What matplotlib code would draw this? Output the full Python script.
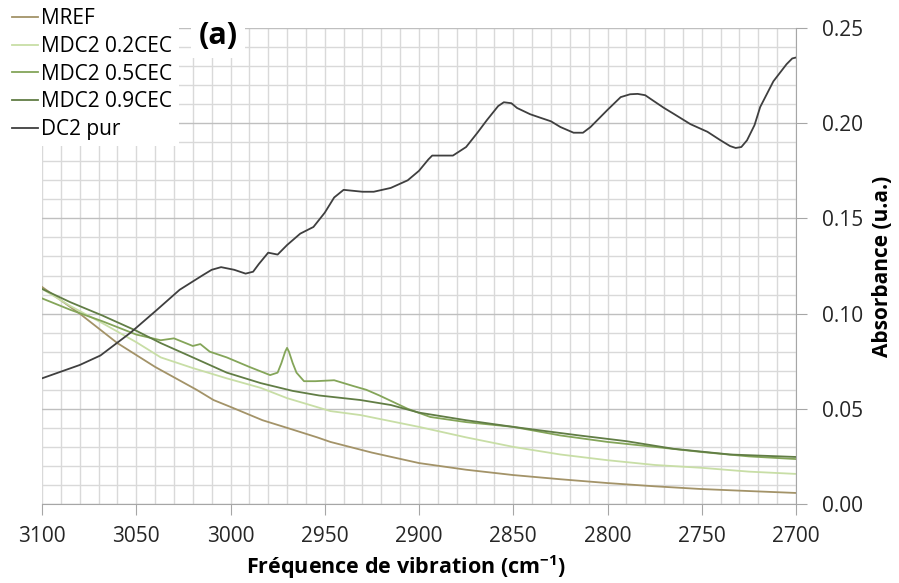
import matplotlib.pyplot as plt
from matplotlib.ticker import MultipleLocator, FormatStrFormatter

plt.rcParams['font.family'] = ['Open Sans', 'DejaVu Sans']
plt.rcParams['mathtext.fontset'] = 'custom'
plt.rcParams['mathtext.rm'] = 'Open Sans'
plt.rcParams['mathtext.bf'] = 'Open Sans:bold'

# Spectra (wavenumber in cm-1, absorbance)
wn_mref = [3100, 3080, 3060, 3040, 3018, 3009, 3000, 2983, 2970, 2954,
           2947, 2925, 2900, 2875, 2850, 2825, 2800, 2775, 2751, 2725, 2700]
abs_mref = [0.114, 0.100, 0.0845, 0.072, 0.060, 0.0546, 0.051, 0.044, 0.040,
            0.035, 0.0326, 0.027, 0.0215, 0.018, 0.0152, 0.013, 0.011,
            0.0093, 0.0079, 0.0068, 0.0058]

wn_02 = [3100, 3085, 3068, 3050, 3037, 3020, 3002, 2984, 2970, 2947, 2931,
         2900, 2875, 2850, 2825, 2800, 2775, 2750, 2725, 2700]
abs_02 = [0.113, 0.104, 0.095, 0.085, 0.077, 0.0714, 0.066, 0.061, 0.0556,
          0.0488, 0.0467, 0.0405, 0.035, 0.030, 0.026, 0.023, 0.0205, 0.019,
          0.017, 0.0158]

wn_05 = [3100, 3085, 3068, 3050, 3037, 3030, 3020, 3016, 3011, 3002, 2990,
         2979, 2975, 2973, 2971, 2970, 2969, 2967, 2965, 2961, 2955, 2945,
         2935, 2928, 2921, 2906, 2894, 2875, 2850, 2825, 2800, 2775, 2750,
         2725, 2700]
abs_05 = [0.108, 0.102, 0.096, 0.089, 0.086, 0.087, 0.083, 0.084, 0.080,
          0.077, 0.072, 0.0677, 0.069, 0.074, 0.080, 0.082, 0.080, 0.074,
          0.069, 0.0645, 0.0645, 0.065, 0.062, 0.060, 0.057, 0.050, 0.0457,
          0.043, 0.0405, 0.036, 0.0326, 0.030, 0.0273, 0.025, 0.0236]

wn_09 = [3100, 3085, 3068, 3050, 3037, 3020, 3002, 2984, 2967, 2953, 2931,
         2915, 2900, 2875, 2850, 2815, 2790, 2765, 2735, 2700]
abs_09 = [0.113, 0.106, 0.099, 0.091, 0.0845, 0.077, 0.069, 0.0635, 0.0594,
          0.057, 0.0546, 0.052, 0.048, 0.044, 0.0405, 0.036, 0.033, 0.029,
          0.026, 0.0247]

wn_dc2 = [3100, 3080, 3069, 3053, 3039, 3027, 3015, 3010, 3005, 2998, 2992,
          2988, 2985, 2980, 2975, 2970, 2963, 2956, 2950, 2945, 2940, 2935,
          2930, 2924, 2915, 2906, 2900, 2895, 2893, 2886, 2882, 2875, 2869,
          2864, 2858, 2855, 2851, 2848, 2841, 2836, 2830, 2825, 2818, 2813,
          2809, 2804, 2800, 2793, 2788, 2784, 2780, 2776, 2770, 2765, 2756,
          2747, 2740, 2735, 2732, 2729, 2726, 2722, 2719, 2712, 2705, 2702,
          2700]
abs_dc2 = [0.066, 0.073, 0.078, 0.090, 0.102, 0.1125, 0.120, 0.123, 0.1244,
           0.123, 0.121, 0.122, 0.126, 0.132, 0.131, 0.136, 0.142, 0.1455,
           0.153, 0.161, 0.165, 0.1645, 0.164, 0.164, 0.166, 0.170, 0.175,
           0.181, 0.183, 0.183, 0.183, 0.1875, 0.195, 0.2016, 0.209, 0.211,
           0.2105, 0.208, 0.2047, 0.203, 0.201, 0.198, 0.195, 0.195, 0.198,
           0.203, 0.207, 0.2137, 0.2152, 0.2154, 0.2147, 0.212, 0.208, 0.205,
           0.1995, 0.1955, 0.191, 0.188, 0.187, 0.1875, 0.191, 0.199, 0.2085,
           0.222, 0.231, 0.234, 0.2345]

fig = plt.figure(figsize=(8.99, 5.83), dpi=100)
ax = fig.add_axes([42 / 899, 79 / 583, 754 / 899, 476 / 583])

ax.plot(wn_mref, abs_mref, color='#A39368', linewidth=1.3, label='MREF')
ax.plot(wn_02, abs_02, color='#C8DEA6', linewidth=1.3, label='MDC2 0.2CEC')
ax.plot(wn_05, abs_05, color='#84A559', linewidth=1.3, label='MDC2 0.5CEC')
ax.plot(wn_09, abs_09, color='#617D45', linewidth=1.3, label='MDC2 0.9CEC')
ax.plot(wn_dc2, abs_dc2, color='#3F3F3F', linewidth=1.3, label='DC2 pur')

ax.set_xlim(3100, 2700)
ax.set_ylim(0, 0.25)

ax.xaxis.set_major_locator(MultipleLocator(50))
ax.xaxis.set_minor_locator(MultipleLocator(10))
ax.yaxis.set_major_locator(MultipleLocator(0.05))
ax.yaxis.set_minor_locator(MultipleLocator(0.01))
ax.yaxis.set_major_formatter(FormatStrFormatter('%.2f'))

ax.grid(which='minor', color='#D9D9D9', linewidth=1)
ax.grid(which='major', axis='x', color='#D9D9D9', linewidth=1)
ax.grid(which='major', axis='y', color='#BFBFBF', linewidth=1)
ax.set_axisbelow(True)

ax.yaxis.tick_right()
ax.yaxis.set_label_position('right')
ax.tick_params(which='major', length=8, color='#A6A6A6', labelsize=15,
               labelcolor='#262626')
ax.tick_params(which='minor', length=0)
ax.tick_params(axis='x', pad=8)
ax.tick_params(axis='y', pad=11)

for side in ['left', 'top']:
    ax.spines[side].set_visible(False)
for side in ['bottom', 'right']:
    ax.spines[side].set_color('#A6A6A6')

ax.set_xlabel('Fréquence de vibration (cm$^{\\mathbf{-1}}$)', fontsize=15.5,
              fontweight='bold', labelpad=4)
ax.xaxis.label.set_x(0.483)
ax.set_ylabel('Absorbance (u.a.)', fontsize=15, fontweight='bold',
              labelpad=6)

fig.text(218 / 899, 1 - 36 / 583, '(a)', fontsize=22, fontweight='bold',
         ha='center', va='center',
         bbox=dict(facecolor='white', edgecolor='none', pad=5))

leg = fig.legend(loc='upper left', bbox_to_anchor=(6 / 899, 1 - 2 / 583),
                 frameon=True, fontsize=15, handlelength=1.25,
                 handletextpad=0.15, labelspacing=0.32, borderpad=0.3,
                 borderaxespad=0)
leg.get_frame().set_facecolor('white')
leg.get_frame().set_edgecolor('none')
leg.get_frame().set_alpha(1)
leg.get_frame().set_boxstyle('square', pad=0)

fig.savefig('out.png', dpi=100)
